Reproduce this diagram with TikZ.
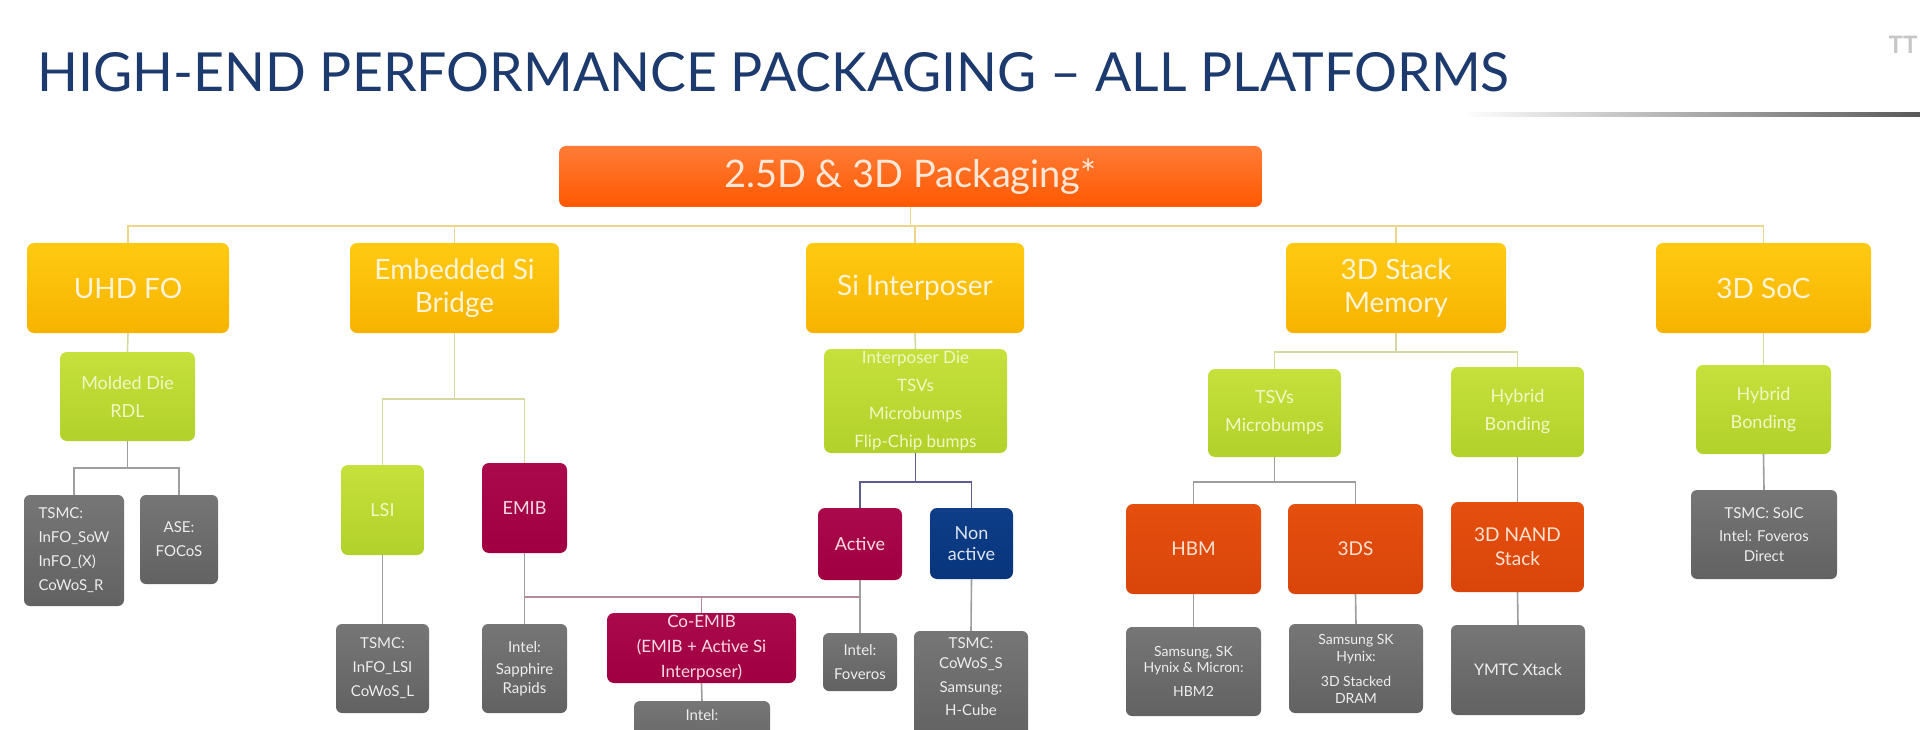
\documentclass[tikz,border=0pt]{standalone}
\usepackage{fontspec}
\setmainfont{Lato}
\usepackage{graphicx}
\definecolor{titleC}{HTML}{1C3A6E}
\definecolor{topA}{HTML}{FF7C36}
\definecolor{topB}{HTML}{FF5800}
\definecolor{topT}{HTML}{FCE6D6}
\definecolor{yelA}{HTML}{FFCA12}
\definecolor{yelB}{HTML}{F6B300}
\definecolor{yelT}{HTML}{FFF4D8}
\definecolor{grnA}{HTML}{C6E03C}
\definecolor{grnB}{HTML}{B2D12A}
\definecolor{grnT}{HTML}{F1F7C6}
\definecolor{magA}{HTML}{AA0A4C}
\definecolor{magB}{HTML}{A00042}
\definecolor{magT}{HTML}{F7DAE4}
\definecolor{navA}{HTML}{0E3E88}
\definecolor{navB}{HTML}{08357C}
\definecolor{navT}{HTML}{DCE4F2}
\definecolor{redA}{HTML}{E5500F}
\definecolor{redB}{HTML}{D9440A}
\definecolor{redT}{HTML}{FFE3D2}
\definecolor{gryA}{HTML}{767676}
\definecolor{gryB}{HTML}{626262}
\definecolor{gryT}{HTML}{EEEEEE}
\definecolor{lineY}{HTML}{EED58C}
\definecolor{lineG}{HTML}{D6D8A2}
\definecolor{lineK}{HTML}{9E9E9E}
\definecolor{lineM}{HTML}{B58A9C}
\definecolor{lineN}{HTML}{5E5E8E}
\tikzset{
  box/.style={rounded corners=7pt, inner sep=1pt, align=center},
  topbox/.style={box, top color=topA, bottom color=topB, text=topT, font=\fontsize{38}{44}\selectfont},
  ybox/.style={box, top color=yelA, bottom color=yelB, text=yelT, font=\fontsize{28}{33}\selectfont},
  gbox/.style={box, top color=grnA, bottom color=grnB, text=grnT, font=\fontsize{18}{28}\selectfont},
  mbox/.style={box, top color=magA, bottom color=magB, text=magT, font=\fontsize{18}{24}\selectfont},
  nbox/.style={box, top color=navA, bottom color=navB, text=navT, font=\fontsize{18}{21}\selectfont},
  rbox/.style={box, top color=redA, bottom color=redB, text=redT, font=\fontsize{19}{24}\selectfont},
  kbox/.style={box, rounded corners=6pt, top color=gryA, bottom color=gryB, text=gryT, font=\fontsize{15}{24}\selectfont},
  ktext/.style={text=gryT, align=center, inner sep=0pt, font=\fontsize{15}{24}\selectfont},
  yl/.style={draw=lineY, line width=1.6pt},
  gl/.style={draw=lineG, line width=1.6pt},
  kl/.style={draw=lineK, line width=1.6pt},
  ml/.style={draw=lineM, line width=1.6pt},
  nl/.style={draw=lineN, line width=1.6pt},
}
\begin{document}
\begin{tikzpicture}[x=1pt,y=-1pt]
\useasboundingbox (0,0) rectangle (1920,730);
\clip (0,0) rectangle (1920,730);
\fill[white] (0,0) rectangle (1920,730);
% title
\node[anchor=base west, inner sep=0pt, text=titleC] (title) at (37,92)
  {\resizebox{1472pt}{39pt}{HIGH-END PERFORMANCE PACKAGING -- ALL PLATFORMS}};
\shade[left color=white, right color=black!65] (1463,113) rectangle (1920,117);
\node[text=black!22, font=\fontsize{24}{24}\selectfont\bfseries, inner sep=0pt] (logo) at (1903,45) {TT};
% top
\node[topbox, minimum width=703pt, minimum height=61pt] (top) at (910.5,176.5) {2.5D \& 3D Packaging*};
% level 1
\node[ybox, minimum width=202pt, minimum height=90pt] (uhd) at (128,288) {UHD FO};
\node[ybox, minimum width=209pt, minimum height=90pt] (emb) at (454.5,288) {Embedded Si\\Bridge};
\node[ybox, minimum width=218pt, minimum height=90pt] (sii) at (915,288) {Si Interposer};
\node[ybox, minimum width=220pt, minimum height=90pt] (stk) at (1396,288) {3D Stack\\Memory};
\node[ybox, minimum width=215pt, minimum height=90pt] (soc) at (1763.5,288) {3D SoC};
% green
\node[gbox, minimum width=135pt, minimum height=89pt] (mold) at (127.5,396.5) {Molded Die\\RDL};
\node[gbox, font=\fontsize{17}{28}\selectfont, minimum width=183pt, minimum height=104pt] (ipd) at (915.5,401) {Interposer Die\\TSVs\\Microbumps\\Flip-Chip bumps};
\node[gbox, minimum width=133pt, minimum height=88pt] (tsv) at (1274.5,413) {TSVs\\Microbumps};
\node[gbox, minimum width=133pt, minimum height=90pt] (hyb) at (1517.5,412) {Hybrid\\Bonding};
\node[gbox, minimum width=135pt, minimum height=89pt] (hybs) at (1763.5,409.5) {Hybrid\\Bonding};
\node[gbox, minimum width=83pt, minimum height=90pt] (lsi) at (382.5,510) {LSI};
% magenta / navy
\node[mbox, minimum width=85pt, minimum height=90pt] (emib) at (524.5,508) {EMIB};
\node[mbox, minimum width=84pt, minimum height=72pt] (act) at (860,544) {Active};
\node[mbox, font=\fontsize{17}{25}\selectfont, minimum width=189pt, minimum height=70pt] (coemib) at (701.5,648) {Co-EMIB\\(EMIB + Active Si\\Interposer)};
\node[nbox, minimum width=83pt, minimum height=71pt] (non) at (971.5,543.5) {Non\\active};
% red
\node[rbox, minimum width=135pt, minimum height=90pt] (hbm) at (1193.5,549) {HBM};
\node[rbox, minimum width=135pt, minimum height=90pt] (tds) at (1355.5,549) {3DS};
\node[rbox, minimum width=133pt, minimum height=90pt] (nand) at (1517.5,547) {3D NAND\\Stack};
% gray
\node[kbox, align=left, minimum width=100pt, minimum height=111pt] (g1) at (74,550.5) {TSMC:\\InFO\_SoW\\InFO\_(X)\\CoWoS\_R};
\node[kbox, minimum width=78pt, minimum height=89pt] (g2) at (179,539.5) {ASE:\\FOCoS};
\node[kbox, minimum width=93pt, minimum height=89pt] (g3) at (382.5,668.5) {TSMC:\\InFO\_LSI\\CoWoS\_L};
\node[kbox, font=\fontsize{15}{19}\selectfont, minimum width=85pt, minimum height=89pt] (g4) at (524.5,668.5) {Intel:\\[3pt]Sapphire\\Rapids};
\node[kbox, minimum width=136pt, minimum height=59pt] (g5) at (702,730.5) {};
\node[ktext, anchor=base] (g5t) at (702,720) {Intel:};
\node[kbox, minimum width=74pt, minimum height=58pt] (g6) at (860,662) {Intel:\\Foveros};
\node[kbox, minimum width=114pt, minimum height=109pt] (g7) at (971,685.5) {};
\node[ktext, anchor=center, font=\fontsize{15}{20}\selectfont] (g7t) at (971,677) {TSMC:\\CoWoS\_S\\[4pt]Samsung:\\[3pt]H-Cube};
\node[kbox, font=\fontsize{14}{16}\selectfont, minimum width=135pt, minimum height=89pt] (g8) at (1193.5,671.5) {Samsung, SK\\Hynix \& Micron:\\[8pt]HBM2};
\node[kbox, font=\fontsize{14}{17}\selectfont, minimum width=134pt, minimum height=89pt] (g9) at (1356,668.5) {Samsung SK\\Hynix:\\[8pt]3D Stacked\\DRAM};
\node[kbox, font=\fontsize{16}{20}\selectfont, minimum width=134pt, minimum height=90pt] (g10) at (1518,670) {YMTC Xtack};
\node[kbox, font=\fontsize{15}{20}\selectfont, minimum width=146pt, minimum height=89pt] (g11) at (1764,534.5) {TSMC: SoIC\\[3pt]Intel: Foveros\\Direct};
% connectors: top bus
\coordinate (b0) at (911,226);
\draw[yl] (top.south) -- (top.south |- b0);
\draw[yl] (uhd.north) -- (uhd.north |- b0) -- (soc.north |- b0) -- (soc.north);
\draw[yl] (emb.north) -- (emb.north |- b0);
\draw[yl] (sii.north) -- (sii.north |- b0);
\draw[yl] (stk.north) -- (stk.north |- b0);
% UHD FO branch
\draw[gl] (uhd.south) -- (mold.north);
\coordinate (b1) at (0,468);
\draw[kl] (mold.south) -- (mold.south |- b1);
\draw[kl] (g1.north) -- (g1.north |- b1) -- (g2.north |- b1) -- (g2.north);
% Embedded branch
\coordinate (b2) at (0,399);
\draw[gl] (emb.south) -- (emb.south |- b2);
\draw[gl] (lsi.north) -- (lsi.north |- b2) -- (emib.north |- b2) -- (emib.north);
\draw[kl] (lsi.south) -- (g3.north);
\draw[kl] (emib.south) -- (g4.north);
\coordinate (b5) at (0,597);
\draw[ml] (emib.south |- b5) -- (act.south |- b5);
\draw[ml] (coemib.north) -- (coemib.north |- b5);
\draw[kl] (act.south) -- (g6.north);
\draw[kl] (coemib.south) -- (g5.north);
% Interposer branch
\draw[gl] (sii.south) -- (ipd.north);
\coordinate (b3) at (0,482);
\draw[nl] (ipd.south) -- (ipd.south |- b3);
\draw[nl] (act.north) -- (act.north |- b3) -- (non.north |- b3) -- (non.north);
\draw[kl] (non.south) -- (g7.north);
% 3D stack branch
\coordinate (b4) at (0,352);
\draw[gl] (stk.south) -- (stk.south |- b4);
\draw[gl] (tsv.north) -- (tsv.north |- b4) -- (hyb.north |- b4) -- (hyb.north);
\coordinate (b6) at (0,482);
\draw[kl] (tsv.south) -- (tsv.south |- b6);
\draw[kl] (hbm.north) -- (hbm.north |- b6) -- (tds.north |- b6) -- (tds.north);
\draw[kl] (hyb.south) -- (nand.north);
\draw[kl] (hbm.south) -- (g8.north);
\draw[kl] (tds.south) -- (g9.north);
\draw[kl] (nand.south) -- (g10.north);
% 3D SoC branch
\draw[gl] (soc.south) -- (hybs.north);
\draw[kl] (hybs.south) -- (g11.north);
\end{tikzpicture}
\end{document}
